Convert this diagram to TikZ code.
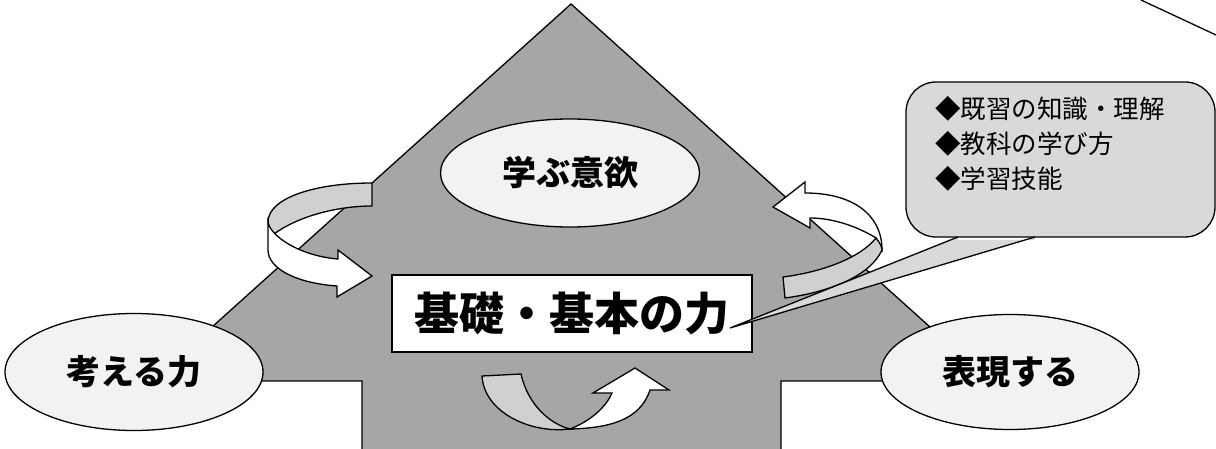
\documentclass[tikz,border=0pt]{standalone}
\usepackage{fontspec}
\newfontfamily\jp{Noto Sans CJK JP}
\usetikzlibrary{shapes.geometric}
\definecolor{arrowgray}{HTML}{A6A6A6}
\definecolor{ellfill}{HTML}{F2F2F2}
\definecolor{callfill}{HTML}{D9D9D9}
\definecolor{ribbon}{HTML}{D0D0D0}
\tikzset{
  outline/.style={draw=black, line width=1.3pt, line join=miter},
  ellnode/.style={ellipse, outline, fill=ellfill, inner sep=0pt, font=\jp\bfseries\fontsize{34}{40}\selectfont},
  boxnode/.style={rectangle, outline, fill=white, inner sep=0pt, font=\jp\bfseries\fontsize{45}{50}\selectfont},
  calltext/.style={anchor=base west, inner sep=0pt, font=\jp\fontsize{25.5}{30}\selectfont},
}
\begin{document}
\begin{tikzpicture}[x=1pt,y=-1pt]
\useasboundingbox (0,0) rectangle (1216,449);
% big arrow
\draw[outline, fill=arrowgray] (571,4) -- (990,381) -- (781,381) -- (781,470) -- (362,470) -- (362,381) -- (152,381) -- cycle;
% ellipses
\node[ellnode, minimum width=258pt, minimum height=117pt] (think) at (134,372) {考える力};
\node[ellnode, minimum width=258pt, minimum height=115pt] (express) at (1010,372) {表現する};
\node[ellnode, minimum width=259pt, minimum height=108pt] (will) at (570,173) {学ぶ意欲};
% centre box
\node[boxnode, minimum width=360pt, minimum height=77pt] (basic) at (572,313.5) {基礎・基本の力};
% left curved arrow
\draw[outline, fill=ribbon] (372,183) .. controls (315,183) and (268,198) .. (268,222)
  .. controls (269,228) and (271,231) .. (274,234)
  .. controls (300,215) and (340,206) .. (372,206) -- cycle;
\draw[outline, fill=white] (268,222) .. controls (270,236) and (300,256) .. (338,259)
  -- (338,250) -- (372,276) -- (337,297) -- (337,286)
  .. controls (295,283) and (268,268) .. (268,250) -- cycle;
% bottom curved arrow
\draw[outline, fill=ribbon] (482,376) -- (521,374)
  .. controls (528,405) and (550,424) .. (570,429)
  .. controls (530,434) and (484,412) .. (482,376) -- cycle;
\draw[outline, fill=white] (570,429) .. controls (593,420) and (607,405) .. (612,393)
  -- (593,393) -- (635,368) -- (669,390) -- (650,390)
  .. controls (640,420) and (610,428) .. (570,429) -- cycle;
% right curved arrow
\draw[outline, fill=white] (805,193) .. controls (852,193) and (882,214) .. (882,250)
  -- (876,238) .. controls (860,228) and (835,218) .. (810,218)
  -- (810,228) -- (773,207) -- (805,182) -- cycle;
\draw[outline, fill=ribbon] (783,277) .. controls (822,272) and (860,258) .. (876,238)
  .. controls (880,243) and (882,247) .. (882,250)
  .. controls (870,276) and (830,292) .. (785,298) -- cycle;
% callout
\node[rectangle, rounded corners=30pt, outline, fill=callfill, minimum width=309pt, minimum height=155pt, inner sep=0pt] (callout) at (1060.5,159.5) {};
\coordinate (tip) at (730,328);
\coordinate (tailA) at (958,237);
\coordinate (tailB) at (1035,237);
\fill[callfill] ([yshift=-3pt]tailA) -- (tailA) -- (tip) -- (tailB) -- ([yshift=-3pt]tailB) -- cycle;
\draw[line width=1.3pt, line join=miter] (tailA) -- (tip) -- (tailB);
\node[calltext] (line1) at (935,119) {◆既習の知識・理解};
\node[calltext] (line2) at (935,154) {◆教科の学び方};
\node[calltext] (line3) at (935,189) {◆学習技能};
% top-right line
\coordinate (trA) at (1141,0);
\coordinate (trB) at (1216,35);
\draw[line width=1.3pt] (trA) -- (trB);
\end{tikzpicture}
\end{document}
